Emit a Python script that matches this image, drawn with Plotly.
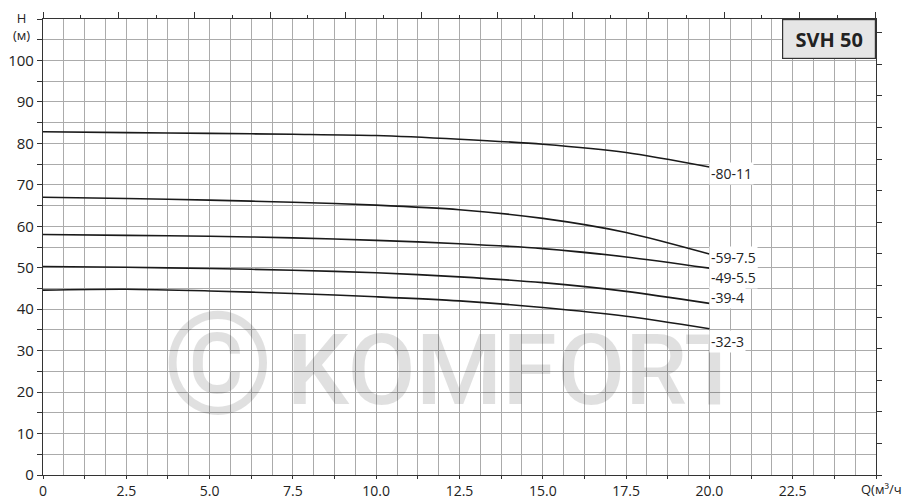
import plotly.graph_objects as go

# ---- data ----
q = [0, 2.5, 5, 7.5, 10, 12.5, 15, 17.5, 20]
h_80_11 = [82.8, 82.6, 82.4, 82.2, 81.9, 81.0, 79.8, 77.8, 74.3]
h_59_75 = [67.0, 66.7, 66.3, 65.8, 65.1, 64.0, 61.9, 58.5, 53.3]
h_49_55 = [58.0, 57.8, 57.6, 57.2, 56.6, 55.8, 54.6, 52.6, 49.9]
h_39_4 = [50.3, 50.1, 49.8, 49.4, 48.8, 47.8, 46.4, 44.3, 41.4]
h_32_3 = [44.6, 44.8, 44.4, 43.8, 43.0, 42.0, 40.4, 38.3, 35.3]
series_names = ["-80-11", "-59-7.5", "-49-5.5", "-39-4", "-32-3"]
series_values = [h_80_11, h_59_75, h_49_55, h_39_4, h_32_3]
x_tick_vals = [i * 1.25 for i in range(21)]
x_tick_labels = ["0", "", "2.5", "", "5.0", "", "7.5", "", "10.0", "", "12.5", "",
                 "15.0", "", "17.5", "", "20.0", "", "22.5", "", ""]
y_tick_vals = [0, 10, 20, 30, 40, 50, 60, 70, 80, 90, 100]
y_tick_labels = ["0", "10", "20", "30", "40", "50", "60", "70", "80", "90", "100"]
model_title = "SVH 50"

# ---- layout constants ----
label_y = [72.8, 52.5, 47.7, 42.9, 32.3]
FONT = "Open Sans"
AX = "#333333"
GRID = "#ababab"
WM = "rgba(0,0,0,0.12)"

fig = go.Figure()

# watermark
fig.add_trace(go.Scatter(x=[5.25], y=[23.2], mode="text", text=["©"],
                         textfont=dict(family="Roboto", size=142, color=WM),
                         hoverinfo="skip", showlegend=False))
fig.add_trace(go.Scatter(x=[14.18], y=[23.2], mode="text", text=["KOMFORT"],
                         textfont=dict(family="Roboto", size=99, color=WM, weight=500),
                         hoverinfo="skip", showlegend=False))

for name, vals in zip(series_names, series_values):
    fig.add_trace(go.Scatter(x=q, y=vals, mode="lines", name=name,
                             line=dict(color="#1a1a1a", width=1.6, shape="spline", smoothing=0.8),
                             showlegend=False))

# invisible traces for secondary axes (gpm / ft)
fig.add_trace(go.Scatter(x=[0, 110.07], y=[0, 0], xaxis="x2", yaxis="y", mode="markers",
                         marker=dict(opacity=0), hoverinfo="skip", showlegend=False))
fig.add_trace(go.Scatter(x=[0, 0], y=[0, 360.9], xaxis="x", yaxis="y2", mode="markers",
                         marker=dict(opacity=0), hoverinfo="skip", showlegend=False))

for name, ly in zip(series_names, label_y):
    fig.add_annotation(x=20, y=ly, xref="x", yref="y", text=name, showarrow=False,
                       xanchor="left", yanchor="middle", bgcolor="white", borderpad=1,
                       font=dict(family=FONT, size=14, color="#222"))

fig.update_layout(
    width=902, height=492,
    margin=dict(l=35, r=34, t=11, b=25, autoexpand=False),
    plot_bgcolor="white", paper_bgcolor="white",
    font=dict(family=FONT, size=15, color="#222"),
    xaxis=dict(range=[0, 25], tickmode="array", tickvals=x_tick_vals, ticktext=x_tick_labels,
               ticks="outside", ticklen=3, tickcolor=AX, showline=True, linecolor=AX, linewidth=1.2,
               showgrid=True, gridcolor=GRID, gridwidth=1, zeroline=False, automargin=False,
               minor=dict(dtick=0.625, tick0=0, showgrid=True, gridcolor=GRID, gridwidth=1, ticks=""),
               tickangle=0, tickfont=dict(size=14)),
    xaxis2=dict(range=[0, 110.07], overlaying="x", side="top", anchor="y", showticklabels=False,
                ticks="outside", ticklen=6, tickcolor=AX, dtick=10, tick0=0, automargin=False,
                minor=dict(dtick=5, ticks="outside", ticklen=3, tickcolor=AX),
                showline=True, linecolor=AX, linewidth=1.2, showgrid=False, zeroline=False),
    yaxis=dict(range=[0, 110], tickmode="array", tickvals=y_tick_vals, ticktext=y_tick_labels,
               ticks="outside", ticklen=5, tickcolor=AX, automargin=False,
               showline=True, linecolor=AX, linewidth=1.2, showgrid=True, gridcolor=GRID,
               gridwidth=1, zeroline=False,
               minor=dict(dtick=5, tick0=0, showgrid=True, gridcolor=GRID, gridwidth=1, ticks="outside",
                          ticklen=5, tickcolor=AX)),
    yaxis2=dict(range=[0, 110 / 0.3048], overlaying="y", side="right", anchor="x",
                showticklabels=False, ticks="outside", ticklen=5, tickcolor=AX, dtick=25, tick0=0,
                showline=True, linecolor=AX, linewidth=1.2, showgrid=False, zeroline=False,
                automargin=False),
)

# model box
fig.add_annotation(xref="paper", yref="paper", x=1.0, y=1.0, xanchor="right", yanchor="top",
                   text=f"<b>{model_title}</b>", showarrow=False, width=92, height=38,
                   align="center", valign="middle", bgcolor="#e6e6e6", bordercolor="#333",
                   borderwidth=1.2, borderpad=0, font=dict(family=FONT, size=20, color="#222"))

# axis titles
fig.add_annotation(xref="paper", yref="paper", x=-0.026, y=1.024, text="H<br>(м)",
                   showarrow=False, xanchor="center", yanchor="top", borderpad=0, align="center",
                   font=dict(family=FONT, size=13))
fig.add_annotation(xref="paper", yref="paper", x=1.037, y=0, yshift=-14, text="Q(м³/ч)",
                   showarrow=False, xanchor="right", yanchor="middle", borderpad=0,
                   font=dict(family=FONT, size=13))

fig.write_html("out.html")
